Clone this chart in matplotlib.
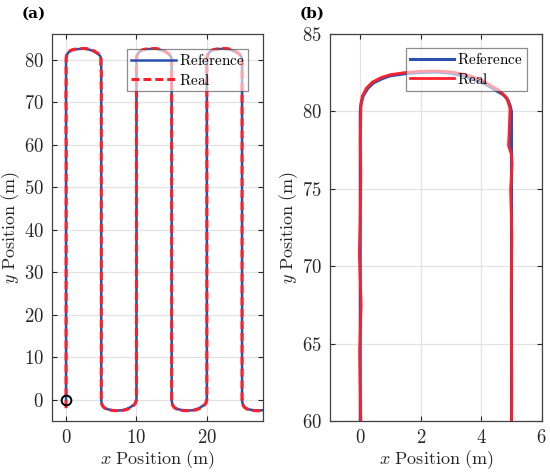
import matplotlib
matplotlib.use("Agg")
import matplotlib.pyplot as plt
from matplotlib.ticker import FuncFormatter
import numpy as np

plt.rcParams['mathtext.fontset'] = 'cm'
plt.rcParams['font.family'] = 'serif'

# lawnmower lanes (m)
lane_x = [0, 5, 10, 15, 20, 25, 30]
lane_bottom = 0
lane_top = 80

# shape of one headland turn (offsets from lane end)
ref_turn_dx = [0, 0.02, 0.09, 0.25, 0.44, 0.7, 0.98, 1.5, 2.0, 2.5, 3.0, 3.5, 4.0, 4.29, 4.45, 4.73, 4.88, 4.95, 5.0]
ref_turn_dy = [0, 0.4, 0.98, 1.5, 1.85, 2.1, 2.3, 2.45, 2.52, 2.55, 2.48, 2.25, 1.9, 1.6, 1.4, 1.08, 0.75, 0.4, 0]
real_turn_dx = [0.02, 0.02, 0.07, 0.2, 0.4, 0.7, 1.0, 1.5, 2.0, 2.5, 3.0, 3.5, 4.0, 4.3, 4.6, 4.84, 4.95]
real_turn_dy = [0, 0.5, 1.0, 1.5, 1.9, 2.2, 2.38, 2.52, 2.6, 2.62, 2.56, 2.38, 2.05, 1.7, 1.35, 0.9, 0.2]

# measured wiggles on the first two lanes
real_start_y = [-2, 0, 60, 62, 64.5, 67.5, 70.8, 73, 76, 78, 80]
real_start_x = [0, 0, 0.02, 0.0, -0.02, 0.03, -0.03, 0.0, 0.02, 0.0, 0.02]
real_back_y = [78.5, 77.8, 77.2, 76.6, 75, 72, 68, 65, 62, 60]
real_back_x = [4.92, 4.9, 5.0, 5.02, 4.97, 5.01, 4.99, 5.0, 5.01, 5.0]

start_x, start_y = 0, 0


def build_path(turn_dx, turn_dy):
    xs, ys = [], []
    for i in range(len(lane_x) - 1):
        x0 = lane_x[i]
        if i % 2 == 0:
            xs += [x0, x0]
            ys += [lane_bottom, lane_top]
            xs += [x0 + d for d in turn_dx]
            ys += [lane_top + d for d in turn_dy]
        else:
            xs += [x0, x0]
            ys += [lane_top, lane_bottom]
            xs += [x0 + d for d in turn_dx]
            ys += [lane_bottom - d for d in turn_dy]
    return np.array(xs), np.array(ys)


ref_x, ref_y = build_path(ref_turn_dx, ref_turn_dy)

rx, ry = build_path(real_turn_dx, real_turn_dy)
# replace first lane / first turn / start of second lane with measured points
first = list(real_start_x) + [lane_x[0] + d for d in real_turn_dx] + real_back_x
first_y = list(real_start_y) + [lane_top + d for d in real_turn_dy] + real_back_y
k = 2 + len(real_turn_dx) + 1   # skip lane0, turn0, top of lane1
real_x = np.concatenate([first, rx[k:]])
real_y = np.concatenate([first_y, ry[k:]])

blue = '#2b4fae'
red = '#ff1f2b'

fig = plt.figure(figsize=(5.5, 4.74), dpi=100)
ax1 = fig.add_axes([0.0945, 0.112, 0.384, 0.816])
ax2 = fig.add_axes([0.6, 0.112, 0.385, 0.816])

ax1.plot(ref_x, ref_y, color=blue, lw=1.8, label='$\\mathrm{Reference}$')
ax1.plot(real_x, real_y, color=red, lw=2.2, ls=(0, (2.6, 1.3)), label='$\\mathrm{Real}$')
ax1.plot(start_x, start_y, 'o', ms=7, mfc='none', mec='black', mew=1.4)
ax1.set_xlim(-2, 28)
ax1.set_ylim(-5, 86)
ax1.set_xticks([0, 10, 20])
ax1.set_yticks(range(0, 81, 10))

ax2.plot(ref_x, ref_y, color=blue, lw=2.2, label='$\\mathrm{Reference}$')
ax2.plot(real_x, real_y, color=red, lw=2.0, label='$\\mathrm{Real}$')
ax2.set_xlim(-1, 6)
ax2.set_ylim(60, 85)
ax2.set_xticks(range(0, 7, 2))
ax2.set_yticks(range(60, 86, 5))

fmt = FuncFormatter(lambda v, p: '$%g$' % v)
for ax, anchor in [(ax1, (0.929, 0.961)), (ax2, (0.93, 0.963))]:
    ax.xaxis.set_major_formatter(fmt)
    ax.yaxis.set_major_formatter(fmt)
    ax.grid(True, color='#e3e3e3', lw=0.9)
    ax.set_axisbelow(True)
    ax.tick_params(direction='in', length=3.5, width=0.8, top=True, right=True,
                   labelsize=13.5, colors='#262626', pad=6)
    for s in ax.spines.values():
        s.set_color('#404040')
        s.set_linewidth(0.9)
    ax.set_xlabel('$x\\ \\mathrm{Position\\ (m)}$', fontsize=13, color='#262626', labelpad=1)
    ax.set_ylabel('$y\\ \\mathrm{Position\\ (m)}$', fontsize=13, color='#262626', labelpad=1)
    leg = ax.legend(loc='upper right', bbox_to_anchor=anchor, borderaxespad=0,
                    fontsize=11, handlelength=2.9, handletextpad=0.2, borderpad=0.25,
                    labelspacing=0.3, fancybox=False, framealpha=0.6, edgecolor='#404040')
    leg.get_frame().set_linewidth(0.9)

fig.text(0.04, 0.985, '(a)', fontsize=11, fontweight='bold', va='top', ha='left',
         family='DejaVu Serif')
fig.text(0.545, 0.985, '(b)', fontsize=11, fontweight='bold', va='top', ha='left',
         family='DejaVu Serif')

fig.savefig('out.png', dpi=100)
